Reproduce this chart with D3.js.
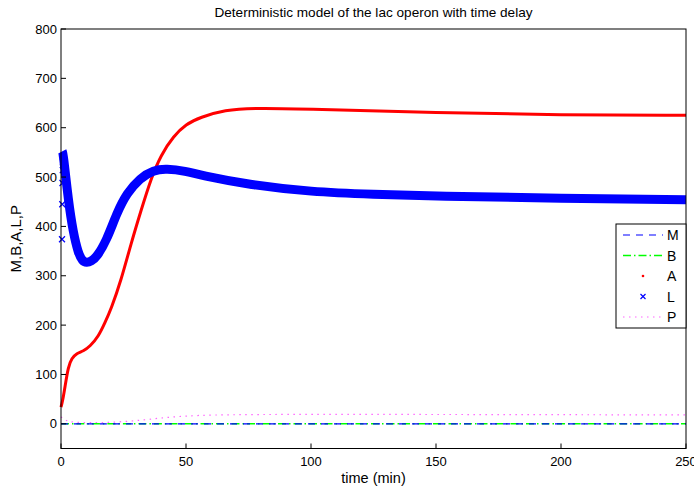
<!DOCTYPE html>
<html>
<head>
<meta charset="utf-8">
<script src="https://cdn.jsdelivr.net/npm/d3@7"></script>
<style>
  body { margin: 0; background: #fff; }
  text { font-family: "Liberation Sans", Arial, sans-serif; }
</style>
</head>
<body>
<div id="chart"></div>
<script>
// values
const timeA = [0, 0.6, 1.6, 2.9, 4.3, 6.3, 8.9, 11.6, 15, 17.6, 20, 24, 28, 32, 36, 40, 45, 50, 55.6, 65.6, 77, 100, 150, 200, 250];
const valA  = [34, 45, 75, 116, 133, 143, 147, 157, 177, 205, 232, 290, 365, 432, 497, 545, 583, 607, 621, 636, 640, 638, 630, 626, 625];

const timeL = [0.5, 0.9, 2.9, 4.9, 6.9, 8.5, 10.3, 12, 14.3, 18.3, 22.3, 26.3, 31.6, 37, 42, 50, 55.6, 75.6, 100, 125, 150, 200, 250];
const valL  = [552, 548, 453, 387, 346, 330, 326, 329, 338, 372, 427, 467, 498, 514, 517, 512, 504, 484, 470, 465, 461, 457, 454];
// first few sparse solver steps of L
const timeL0 = [0, 0.1, 0.2, 0.3, 0.4];
const valL0  = [374, 445, 488, 514, 530];

const timeP = [0, 2, 5, 12, 20, 30, 40, 50, 60, 80, 100, 150, 200, 250];
const valP  = [14, 6, 3, 2, 3, 6, 12, 16, 18, 19, 19, 19, 18.5, 18];

const timeMB = [0, 50, 100, 150, 200, 250];
const valM  = [0, 0, 0, 0, 0, 0];
const valB  = [0, 0, 0, 0, 0, 0];

const xTicks = [0, 50, 100, 150, 200, 250];
const yTicks = [0, 100, 200, 300, 400, 500, 600, 700, 800];
const legendNames = ["M", "B", "A", "L", "P"];

const W = 694, H = 489;
const margin = {top: 29, right: 8, bottom: 40, left: 61};

const svg = d3.select("#chart").append("svg")
    .attr("width", W)
    .attr("height", H);

const x = d3.scaleLinear().domain([0, 250]).range([margin.left, W - margin.right]);
const y = d3.scaleLinear().domain([-50, 800]).range([H - margin.bottom - 0.5, margin.top]);

const zip = (ts, vs) => ts.map((t, i) => ({t: t, v: vs[i]}));

const line = d3.line()
    .x(d => x(d.t))
    .y(d => y(d.v))
    .curve(d3.curveBasis);

// series
svg.append("path")
    .attr("d", line(zip(timeP, valP)))
    .attr("fill", "none")
    .attr("stroke", "#ff66ff")
    .attr("stroke-width", 1.2)
    .attr("stroke-dasharray", "1.5,4.5");

svg.append("path")
    .attr("d", line(zip(timeMB, valB)))
    .attr("fill", "none")
    .attr("stroke", "#00ff00")
    .attr("stroke-width", 1.4)
    .attr("stroke-dasharray", "8,3,1.5,3");

svg.append("path")
    .attr("d", line(zip(timeMB, valM)))
    .attr("fill", "none")
    .attr("stroke", "#0000ff")
    .attr("stroke-width", 1.2)
    .attr("stroke-dasharray", "7,6");

svg.append("path")
    .attr("d", line(zip(timeA, valA)))
    .attr("fill", "none")
    .attr("stroke", "#ff0000")
    .attr("stroke-width", 3);

// L is a dense run of x markers -> thick band
svg.append("path")
    .attr("d", line(zip(timeL, valL)))
    .attr("fill", "none")
    .attr("stroke", "#0000ff")
    .attr("stroke-width", 9);

function cross(g, cx, cy, s) {
    g.append("path")
        .attr("d", `M${cx - s},${cy - s}L${cx + s},${cy + s}M${cx - s},${cy + s}L${cx + s},${cy - s}`)
        .attr("stroke", "#0000ff")
        .attr("stroke-width", 1.2)
        .attr("fill", "none");
}
zip(timeL0, valL0).forEach(d => cross(svg, x(d.t) + 1, y(d.v), 3));

// axes box
const x0 = x(0), x1 = x(250), yb = y(-50), yt = y(800);
svg.append("rect")
    .attr("x", x0).attr("y", yt)
    .attr("width", x1 - x0).attr("height", yb - yt)
    .attr("fill", "none")
    .attr("stroke", "#000")
    .attr("stroke-width", 1);

// ticks, pointing inward
xTicks.forEach(t => {
    svg.append("line")
        .attr("x1", x(t)).attr("x2", x(t))
        .attr("y1", yb).attr("y2", yb - 5)
        .attr("stroke", "#000");
    svg.append("text")
        .attr("x", x(t)).attr("y", yb + 17)
        .attr("text-anchor", "middle")
        .attr("font-size", 13)
        .text(t);
});
yTicks.forEach(t => {
    svg.append("line")
        .attr("x1", x0).attr("x2", x0 + 5)
        .attr("y1", y(t)).attr("y2", y(t))
        .attr("stroke", "#000");
    svg.append("text")
        .attr("x", x0 - 4).attr("y", y(t) + 4.5)
        .attr("text-anchor", "end")
        .attr("font-size", 13)
        .text(t);
});

// labels
svg.append("text")
    .attr("x", (x0 + x1) / 2).attr("y", 17)
    .attr("text-anchor", "middle")
    .attr("font-size", 13.6)
    .text("Deterministic model of the lac operon with time delay");
svg.append("text")
    .attr("x", (x0 + x1) / 2).attr("y", 483)
    .attr("text-anchor", "middle")
    .attr("font-size", 14.5)
    .text("time (min)");
svg.append("text")
    .attr("transform", `translate(21,${(yt + yb) / 2}) rotate(-90)`)
    .attr("text-anchor", "middle")
    .attr("font-size", 15)
    .text("M,B,A,L,P");

// legend
const lg = svg.append("g").attr("transform", "translate(616,224)");
lg.append("rect")
    .attr("width", x1 - 616).attr("height", 104)
    .attr("fill", "#fff")
    .attr("stroke", "#000");
legendNames.forEach((n, i) => {
    const ly = 11 + i * 20.5;
    if (n === "M") {
        lg.append("line").attr("x1", 7).attr("x2", 47).attr("y1", ly).attr("y2", ly)
            .attr("stroke", "#0000ff").attr("stroke-width", 1.2).attr("stroke-dasharray", "7,6");
    } else if (n === "B") {
        lg.append("line").attr("x1", 7).attr("x2", 47).attr("y1", ly).attr("y2", ly)
            .attr("stroke", "#00ff00").attr("stroke-width", 1.4).attr("stroke-dasharray", "8,3,1.5,3");
    } else if (n === "A") {
        lg.append("circle").attr("cx", 27).attr("cy", ly).attr("r", 1.3).attr("fill", "#ff0000");
    } else if (n === "L") {
        cross(lg, 27, ly, 2.5);
    } else {
        lg.append("line").attr("x1", 7).attr("x2", 47).attr("y1", ly).attr("y2", ly)
            .attr("stroke", "#ff66ff").attr("stroke-width", 1.2).attr("stroke-dasharray", "1.5,4.5");
    }
    lg.append("text")
        .attr("x", 51).attr("y", ly + 5)
        .attr("font-size", 14)
        .text(n);
});
</script>
</body>
</html>
